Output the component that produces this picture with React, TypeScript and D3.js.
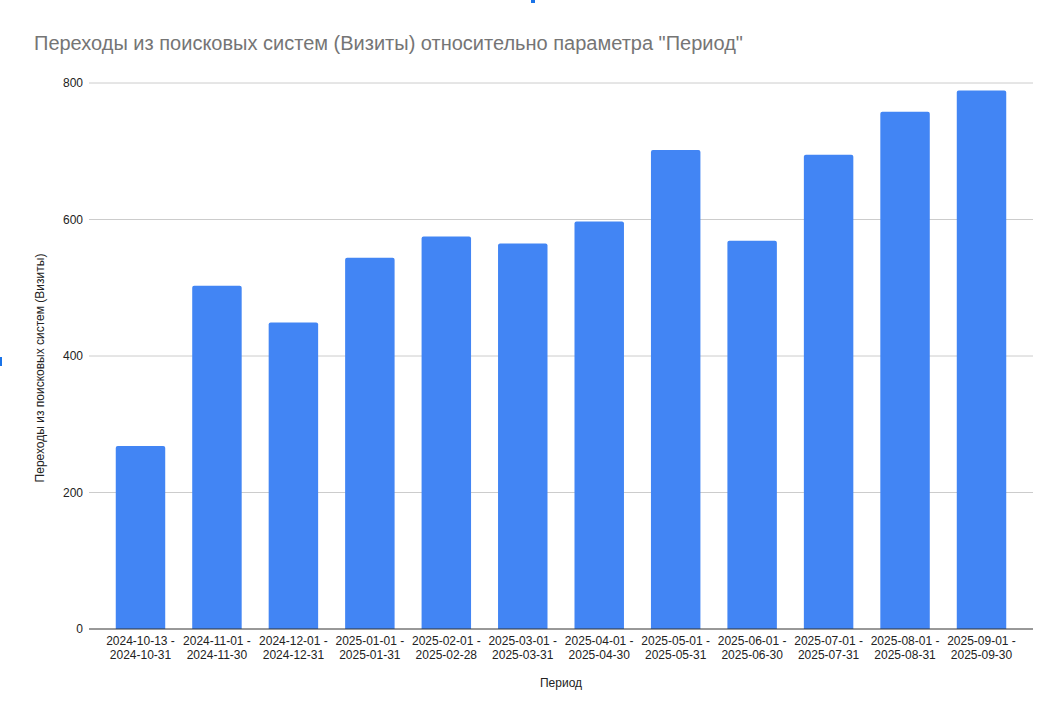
import React from 'react';
import * as d3 from 'd3';

const periods = [
  ['2024-10-13 -', '2024-10-31'],
  ['2024-11-01 -', '2024-11-30'],
  ['2024-12-01 -', '2024-12-31'],
  ['2025-01-01 -', '2025-01-31'],
  ['2025-02-01 -', '2025-02-28'],
  ['2025-03-01 -', '2025-03-31'],
  ['2025-04-01 -', '2025-04-30'],
  ['2025-05-01 -', '2025-05-31'],
  ['2025-06-01 -', '2025-06-30'],
  ['2025-07-01 -', '2025-07-31'],
  ['2025-08-01 -', '2025-08-31'],
  ['2025-09-01 -', '2025-09-30']
];

const visits = [268, 503, 449, 544, 575, 565, 597, 702, 569, 695, 758, 789];

const yTicks = [0, 200, 400, 600, 800];

const TITLE = 'Переходы из поисковых систем (Визиты) относительно параметра "Период"';
const Y_TITLE = 'Переходы из поисковых систем (Визиты)';
const X_TITLE = 'Период';

const WIDTH = 1064;
const HEIGHT = 720;
const margin = { top: 83, right: 31, bottom: 91, left: 89 };
const FONT = 'Arial, "Liberation Sans", sans-serif';
const BAR_COLOR = '#4285F4';

// bar with slightly rounded top corners
const barPath = (x: number, y: number, w: number, h: number, r: number) => {
  const rr = Math.min(r, h / 2, w / 2);
  return `M${x},${y + h}V${y + rr}Q${x},${y} ${x + rr},${y}H${x + w - rr}Q${x + w},${y} ${x + w},${y + rr}V${y + h}Z`;
};

export default function App() {
  const chartWidth = WIDTH - margin.left - margin.right;
  const chartHeight = HEIGHT - margin.top - margin.bottom;

  const keys = periods.map(p => p.join(' '));

  const xScale = d3
    .scaleBand()
    .domain(keys)
    .range([0, chartWidth])
    .paddingInner(0.353)
    .paddingOuter(0.35);

  const yScale = d3.scaleLinear().domain([0, 800]).range([chartHeight, 0]);

  return (
    <svg
      width={WIDTH}
      height={HEIGHT}
      viewBox={`0 0 ${WIDTH} ${HEIGHT}`}
      style={{ position: 'absolute', left: 0, top: 0, background: '#fff' }}
      fontFamily={FONT}
    >
      <rect x={0} y={0} width={WIDTH} height={HEIGHT} fill="#fff" />

      {/* selection handles */}
      <rect x={531} y={0} width={4} height={3} fill="#1a73e8" />
      <rect x={0} y={357} width={2} height={9} fill="#1a73e8" />

      {/* title */}
      <text x={34} y={50} fontSize={20} fill="#757575">
        {TITLE}
      </text>

      <g transform={`translate(${margin.left},${margin.top})`}>
        {/* grid + y ticks */}
        {yTicks.map(t => (
          <g key={t} transform={`translate(0,${yScale(t)})`}>
            {t !== 0 && (
              <line x1={0} x2={chartWidth} y1={0} y2={0} stroke="#cccccc" strokeWidth={1} />
            )}
            <text x={-6} y={0} dy="0.35em" fontSize={12} fill="#222" textAnchor="end">
              {t}
            </text>
          </g>
        ))}

        {/* bars */}
        {visits.map((v, i) => {
          const x = xScale(keys[i]) || 0;
          const y = yScale(v);
          return (
            <path
              key={i}
              d={barPath(x, y, xScale.bandwidth(), chartHeight - y, 2)}
              fill={BAR_COLOR}
            />
          );
        })}

        {/* baseline */}
        <line x1={0} x2={chartWidth} y1={chartHeight} y2={chartHeight} stroke="#333" strokeWidth={1} />

        {/* x tick labels */}
        {periods.map((p, i) => {
          const cx = (xScale(keys[i]) || 0) + xScale.bandwidth() / 2;
          return (
            <text key={i} x={cx} fontSize={12} fill="#222" textAnchor="middle">
              <tspan x={cx} y={chartHeight + 16}>{p[0]}</tspan>
              <tspan x={cx} y={chartHeight + 30}>{p[1]}</tspan>
            </text>
          );
        })}

        {/* x axis title */}
        <text x={chartWidth / 2} y={chartHeight + 58} fontSize={12} fill="#222" textAnchor="middle">
          {X_TITLE}
        </text>
      </g>

      {/* y axis title */}
      <text
        transform={`translate(44,368) rotate(-90)`}
        fontSize={12}
        fill="#222"
        textAnchor="middle"
      >
        {Y_TITLE}
      </text>
    </svg>
  );
}
